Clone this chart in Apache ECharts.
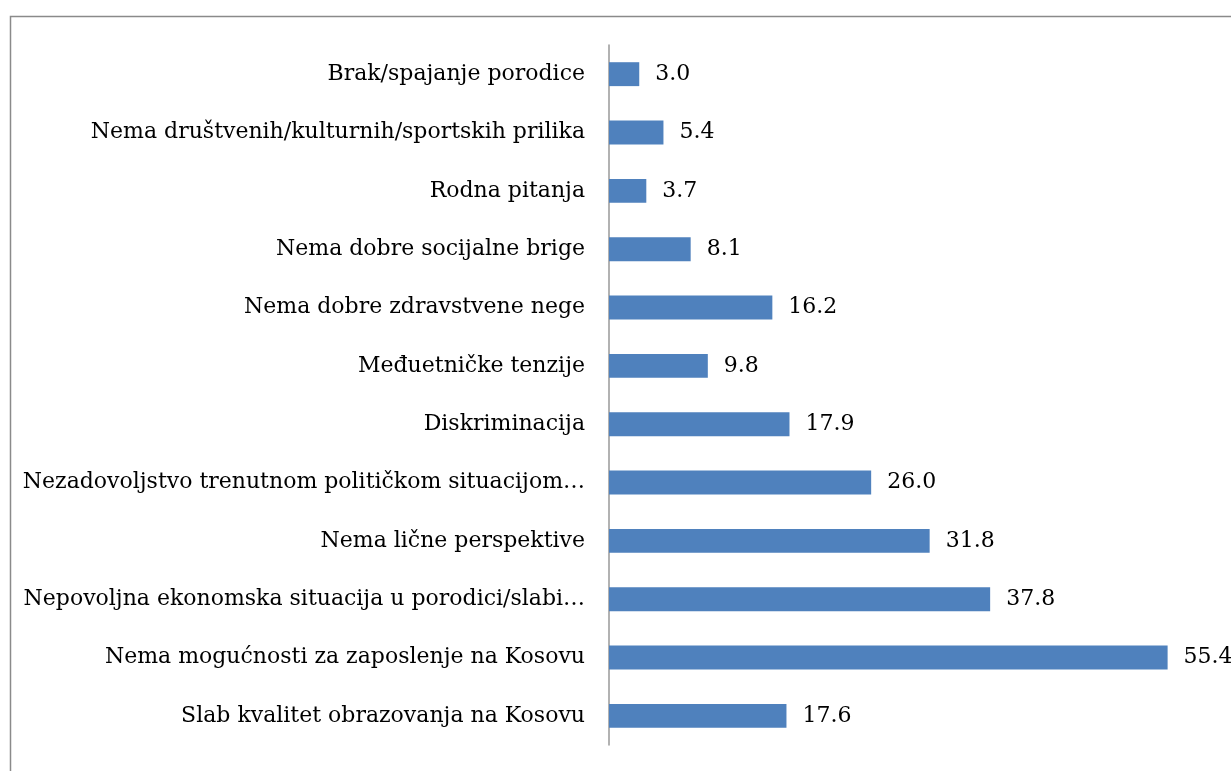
<!DOCTYPE html>
<html>
<head>
<meta charset="utf-8">
<script src="https://cdn.jsdelivr.net/npm/echarts@6/dist/echarts.min.js"></script>
<style>
    html, body { margin: 0; padding: 0; background: #fff; }
    #chart { width: 1231px; height: 771px; }
</style>
</head>
<body>
<div id="chart"></div>
<script>
// kategorije odozdo nagore (kao u Excel grafikonu)
var categories = [
    "Slab kvalitet obrazovanja na Kosovu",
    "Nema mogućnosti za zaposlenje na Kosovu",
    "Nepovoljna ekonomska situacija u porodici/slabi…",
    "Nema lične perspektive",
    "Nezadovoljstvo trenutnom političkom situacijom…",
    "Diskriminacija",
    "Međuetničke tenzije",
    "Nema dobre zdravstvene nege",
    "Nema dobre socijalne brige",
    "Rodna pitanja",
    "Nema društvenih/kulturnih/sportskih prilika",
    "Brak/spajanje porodice"
];
var values = [17.6, 55.4, 37.8, 31.8, 26.0, 17.9, 9.8, 16.2, 8.1, 3.7, 5.4, 3.0];

var fontFamily = '"DejaVu Serif", "Liberation Serif", serif';

var chart = echarts.init(document.getElementById('chart'));
var option = {
    animation : false,
    backgroundColor : '#ffffff',
    textStyle : { fontFamily : fontFamily },
    graphic : [ {
        type : 'rect',
        shape : { x : 10.5, y : 16.5, width : 1400, height : 900 },
        style : { fill : 'none', stroke : '#8a8a8a', lineWidth : 1.5 },
        silent : true
    } ],
    grid : {
        left : 609,
        right : 17,
        top : 45,
        bottom : 26
    },
    xAxis : {
        type : 'value',
        min : 0,
        max : 60,
        show : false
    },
    yAxis : {
        type : 'category',
        data : categories,
        axisLine : { lineStyle : { color : '#999999', width : 1.5 } },
        axisTick : { show : false },
        axisLabel : {
            color : '#000',
            fontSize : 22,
            fontFamily : fontFamily,
            margin : 24
        }
    },
    series : [ {
        type : 'bar',
        data : values,
        barCategoryGap : '59%',
        itemStyle : { color : '#4F81BD' },
        label : {
            show : true,
            position : 'right',
            distance : 16,
            color : '#000',
            fontSize : 22,
            fontFamily : fontFamily,
            formatter : function(p) {
                return p.value.toFixed(1);
            }
        }
    } ]
};
chart.setOption(option);
</script>
</body>
</html>
